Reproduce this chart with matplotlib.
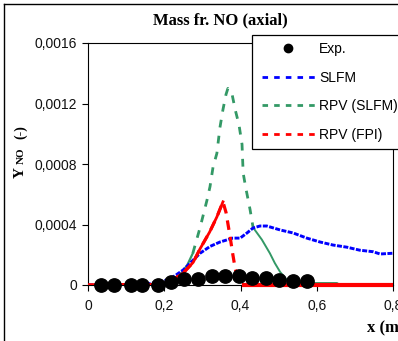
import matplotlib
matplotlib.use("Agg")
import matplotlib.pyplot as plt
from matplotlib.lines import Line2D
from matplotlib.patches import Rectangle
from matplotlib.ticker import FixedLocator, FixedFormatter

# ---------------- data ----------------
exp_x = [0.034, 0.068, 0.113, 0.142, 0.184, 0.218, 0.252, 0.289, 0.325, 0.359,
         0.396, 0.430, 0.467, 0.501, 0.538, 0.574]
exp_y = [0, 0, 0, 0, 0, 2.0e-5, 4.0e-5, 4.0e-5, 6.0e-5, 6.0e-5,
         6.0e-5, 4.6e-5, 4.6e-5, 3.3e-5, 2.6e-5, 2.6e-5]

slfm_x = [0.0, 0.15, 0.19, 0.215, 0.233, 0.25, 0.27, 0.294, 0.32, 0.346, 0.38, 0.399,
          0.417, 0.433, 0.451, 0.469, 0.504, 0.538, 0.574, 0.609, 0.643, 0.679,
          0.713, 0.748, 0.766, 0.8]
slfm_y = [0.0, 5e-6, 2e-5, 4e-5, 7e-5, 1.0e-4, 1.5e-4, 2.1e-4, 2.55e-4, 2.84e-4, 3.1e-4, 3.1e-4,
          3.44e-4, 3.77e-4, 3.9e-4, 3.9e-4, 3.64e-4, 3.44e-4, 3.1e-4, 2.84e-4, 2.64e-4, 2.5e-4,
          2.3e-4, 2.2e-4, 2.05e-4, 2.1e-4]

rpvs_x = [0.0, 0.19, 0.22, 0.245, 0.26, 0.275, 0.294, 0.312, 0.32, 0.328, 0.338, 0.346,
          0.354, 0.362, 0.367, 0.378, 0.386, 0.396, 0.404, 0.407, 0.414, 0.425, 0.433,
          0.456, 0.477, 0.490, 0.504, 0.522, 0.538, 0.653, 0.661, 0.8]
rpvs_y = [0.0, 5e-6, 3e-5, 8e-5, 1.3e-4, 2.1e-4, 3.8e-4, 5.6e-4, 6.5e-4, 7.8e-4, 8.7e-4, 1.04e-3,
          1.16e-3, 1.26e-3, 1.30e-3, 1.26e-3, 1.16e-3, 1.06e-3, 9.3e-4, 7.4e-4, 6.4e-4, 5.0e-4, 3.8e-4,
          3.0e-4, 2.1e-4, 1.45e-4, 8.6e-5, 3.3e-5, 1.3e-5, 1.3e-5, 0.0, 0.0]

rpvf_x = [0.0, 0.19, 0.22, 0.25, 0.276, 0.294, 0.319, 0.338, 0.354, 0.362,
          0.372, 0.380, 0.386, 0.395, 0.405, 0.8]
rpvf_y = [0.0, 5e-6, 3e-5, 8e-5, 1.5e-4, 2.4e-4, 3.5e-4, 4.5e-4, 5.5e-4, 4.8e-4,
          3.3e-4, 2.0e-4, 1.1e-4, 3.0e-5, 0.0, 0.0]

labels = ["Exp.", "SLFM", "RPV (SLFM)", "RPV (FPI)"]
x_ticks = [0, 0.2, 0.4, 0.6, 0.8]
x_tick_labels = ["0", "0,2", "0,4", "0,6", "0,8"]
y_ticks = [0, 0.0004, 0.0008, 0.0012, 0.0016]
y_tick_labels = ["0", "0,0004", "0,0008", "0,0012", "0,0016"]

# ---------------- style ----------------
BLUE = "#0000ff"
GREEN = "#339966"
RED = "#ff0000"
SANS = "Liberation Sans"
SERIF = "Liberation Serif"

W, H = 398, 341
fig = plt.figure(figsize=(W / 100, H / 100), dpi=100)
fig.patch.set_facecolor("white")

ax = fig.add_axes([88 / W, (H - 285) / H, (393 - 88) / W, (285 - 43) / H])
ax.set_xlim(0, 0.8)
ax.set_ylim(0, 0.0016)

# RPV (FPI): dashed overall, solid where data are dense
ax.plot(rpvf_x, rpvf_y, color=RED, lw=2.3, ls=(0, (3.0, 2.2)), zorder=3)
ax.plot(rpvf_x[:9], rpvf_y[:9], color=RED, lw=2.0, zorder=3)
ax.plot(rpvf_x[-2:], rpvf_y[-2:], color=RED, lw=3.0, zorder=3,
        solid_capstyle="butt", clip_on=False)

# RPV (SLFM)
ax.plot(rpvs_x[5:23], rpvs_y[5:23], color=GREEN, lw=2.0, ls=(0, (2.8, 3.0)), zorder=2)
ax.plot(rpvs_x[:6], rpvs_y[:6], color=GREEN, lw=1.6, zorder=2)
ax.plot(rpvs_x[22:], rpvs_y[22:], color=GREEN, lw=1.4, zorder=2)

# SLFM
ax.plot(slfm_x, slfm_y, color=BLUE, lw=2.1, ls=(0, (1.7, 0.5)), zorder=2.5)

# Experiments
ax.plot(exp_x, exp_y, ls="none", marker="o", ms=9.6, color="black", zorder=5,
        clip_on=False)

ax.xaxis.set_major_locator(FixedLocator(x_ticks))
ax.xaxis.set_major_formatter(FixedFormatter(x_tick_labels))
ax.yaxis.set_major_locator(FixedLocator(y_ticks))
ax.yaxis.set_major_formatter(FixedFormatter(y_tick_labels))
ax.tick_params(axis="both", direction="out", length=4, width=0.8, color="black",
               labelsize=10, labelcolor="#111111")
ax.tick_params(axis="x", pad=6)
ax.tick_params(axis="y", pad=4)
for lab in ax.get_xticklabels() + ax.get_yticklabels():
    lab.set_fontfamily(SANS)
for s in ax.spines.values():
    s.set_linewidth(0.8)
    s.set_color("black")

# Titles / labels
fig.text(220 / W, 1 - 20 / H, "Mass fr. NO (axial)", ha="center", va="center",
         fontsize=12, fontweight="bold", family=SERIF)
fig.text(367 / W, 1 - 328 / H, "x (m)", ha="left", va="center",
         fontsize=12, fontweight="bold", family=SERIF)
fig.text(24 / W, 1 - 178 / H, "Y", rotation=90, rotation_mode="anchor",
         ha="left", va="baseline", fontsize=11, fontweight="bold", family=SERIF)
fig.text(24 / W, 1 - 164 / H, "NO", rotation=90, rotation_mode="anchor",
         ha="left", va="baseline", fontsize=8, fontweight="bold", family=SERIF)
fig.text(24 / W, 1 - 139 / H, "(-)", rotation=90, rotation_mode="anchor",
         ha="left", va="baseline", fontsize=10, fontweight="bold", family=SERIF)

# Figure frame (chart area border, cropped on right/bottom)
fig.add_artist(Line2D([4 / W, 4 / W], [0, 1 - 4 / H], transform=fig.transFigure,
                      color="black", lw=1.0))
fig.add_artist(Line2D([4 / W, 1], [1 - 4 / H, 1 - 4 / H], transform=fig.transFigure,
                      color="black", lw=1.0))

# Legend box
fig.patches.append(Rectangle((252 / W, 1 - 149 / H), (420 - 252) / W, (149 - 35) / H,
                             transform=fig.transFigure, facecolor="white",
                             edgecolor="black", lw=0.9, zorder=4))
handles = [
    Line2D([], [], ls="none", marker="o", ms=6, color="black"),
    Line2D([], [], color=BLUE, lw=2.0, ls=(0, (2.0, 2.2))),
    Line2D([], [], color=GREEN, lw=2.0, ls=(0, (2.0, 2.2))),
    Line2D([], [], color=RED, lw=2.0, ls=(0, (2.0, 2.2))),
]
leg = fig.legend(handles, labels, loc="upper left",
                 bbox_to_anchor=(262 / W, 1 - 42 / H), bbox_transform=fig.transFigure,
                 frameon=False, borderpad=0, borderaxespad=0, handlelength=3.8,
                 handletextpad=0.3, labelspacing=1.05,
                 prop={"family": SANS, "size": 10})
leg.set_zorder(6)

fig.savefig("out.png", dpi=100)
